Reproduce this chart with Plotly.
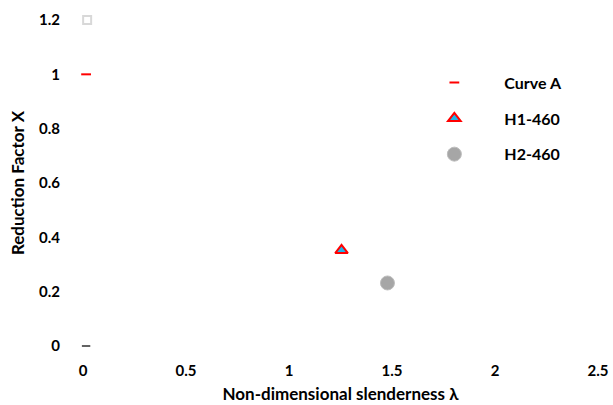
import plotly.graph_objects as go

# Buckling test results against the reference curve
curve_a_x = [0.015]
curve_a_y = [1.0]

h1_x = [1.255]
h1_y = [0.352]

h2_x = [1.478]
h2_y = [0.232]

# stray reference marks along the axis
ref_x = [0.015, 0.02]
ref_y = [0.0, 1.2]

x_ticks = [0, 0.5, 1, 1.5, 2, 2.5]
x_tick_text = ["0", "0.5", "1", "1.5", "2", "2.5"]
y_ticks = [0, 0.2, 0.4, 0.6, 0.8, 1, 1.2]
y_tick_text = ["0", "0.2", "0.4", "0.6", "0.8", "1", "1.2"]

FONT = "Lato"

fig = go.Figure()

fig.add_trace(go.Scatter(
    x=ref_x, y=ref_y, mode="markers", showlegend=False, hoverinfo="skip",
    marker=dict(symbol=["line-ew", "square-open"], size=[6, 8],
                color=["#222222", "#c8c8c8"],
                line=dict(color=["#222222", "#c8c8c8"], width=2)),
    cliponaxis=False,
))

fig.add_trace(go.Scatter(
    x=curve_a_x, y=curve_a_y, mode="markers", name="Curve A", legendgroup="a",
    marker=dict(symbol="line-ew", size=7, line=dict(color="#ff0000", width=2)),
    cliponaxis=False,
))

fig.add_trace(go.Scatter(
    x=h1_x, y=h1_y, mode="markers", name="H1-460", legendgroup="b",
    marker=dict(symbol="triangle-up", size=11, color="#1fb4e8",
                line=dict(color="#ff0000", width=2)),
    cliponaxis=False,
))

fig.add_trace(go.Scatter(
    x=h2_x, y=h2_y, mode="markers", name="H2-460", legendgroup="c",
    marker=dict(symbol="circle", size=14, color="#a6a6a6",
                line=dict(color="#bdbdbd", width=1)),
    cliponaxis=False,
))

fig.update_layout(
    width=613, height=405,
    margin=dict(l=83, r=15, t=20, b=59),
    plot_bgcolor="white", paper_bgcolor="white",
    font=dict(family=FONT, size=13, color="#000000"),
    showlegend=True,
    legend=dict(
        x=0.624, y=0.86, xanchor="left", yanchor="top",
        font=dict(family=FONT, size=16, color="#000000", weight="bold"),
        tracegroupgap=12, itemwidth=90, bgcolor="rgba(0,0,0,0)",
    ),
    xaxis=dict(
        range=[0, 2.5], tickvals=x_ticks, ticktext=x_tick_text,
        showgrid=False, zeroline=False, showline=False, ticks="",
        automargin=False, ticklabelstandoff=14,
        tickfont=dict(family=FONT, size=15, weight="bold"),
        title=dict(text="Non-dimensional slenderness λ", standoff=10,
                   font=dict(family=FONT, size=17, weight="bold")),
    ),
    yaxis=dict(
        range=[0, 1.2], tickvals=y_ticks, ticktext=y_tick_text,
        showgrid=False, zeroline=False, showline=False, ticks="",
        automargin=False, ticklabelstandoff=22,
        tickfont=dict(family=FONT, size=15, weight="bold"),
        title=dict(text="Reduction Factor X", standoff=10,
                   font=dict(family=FONT, size=17, weight="bold")),
    ),
)

fig.write_html("out.html")
